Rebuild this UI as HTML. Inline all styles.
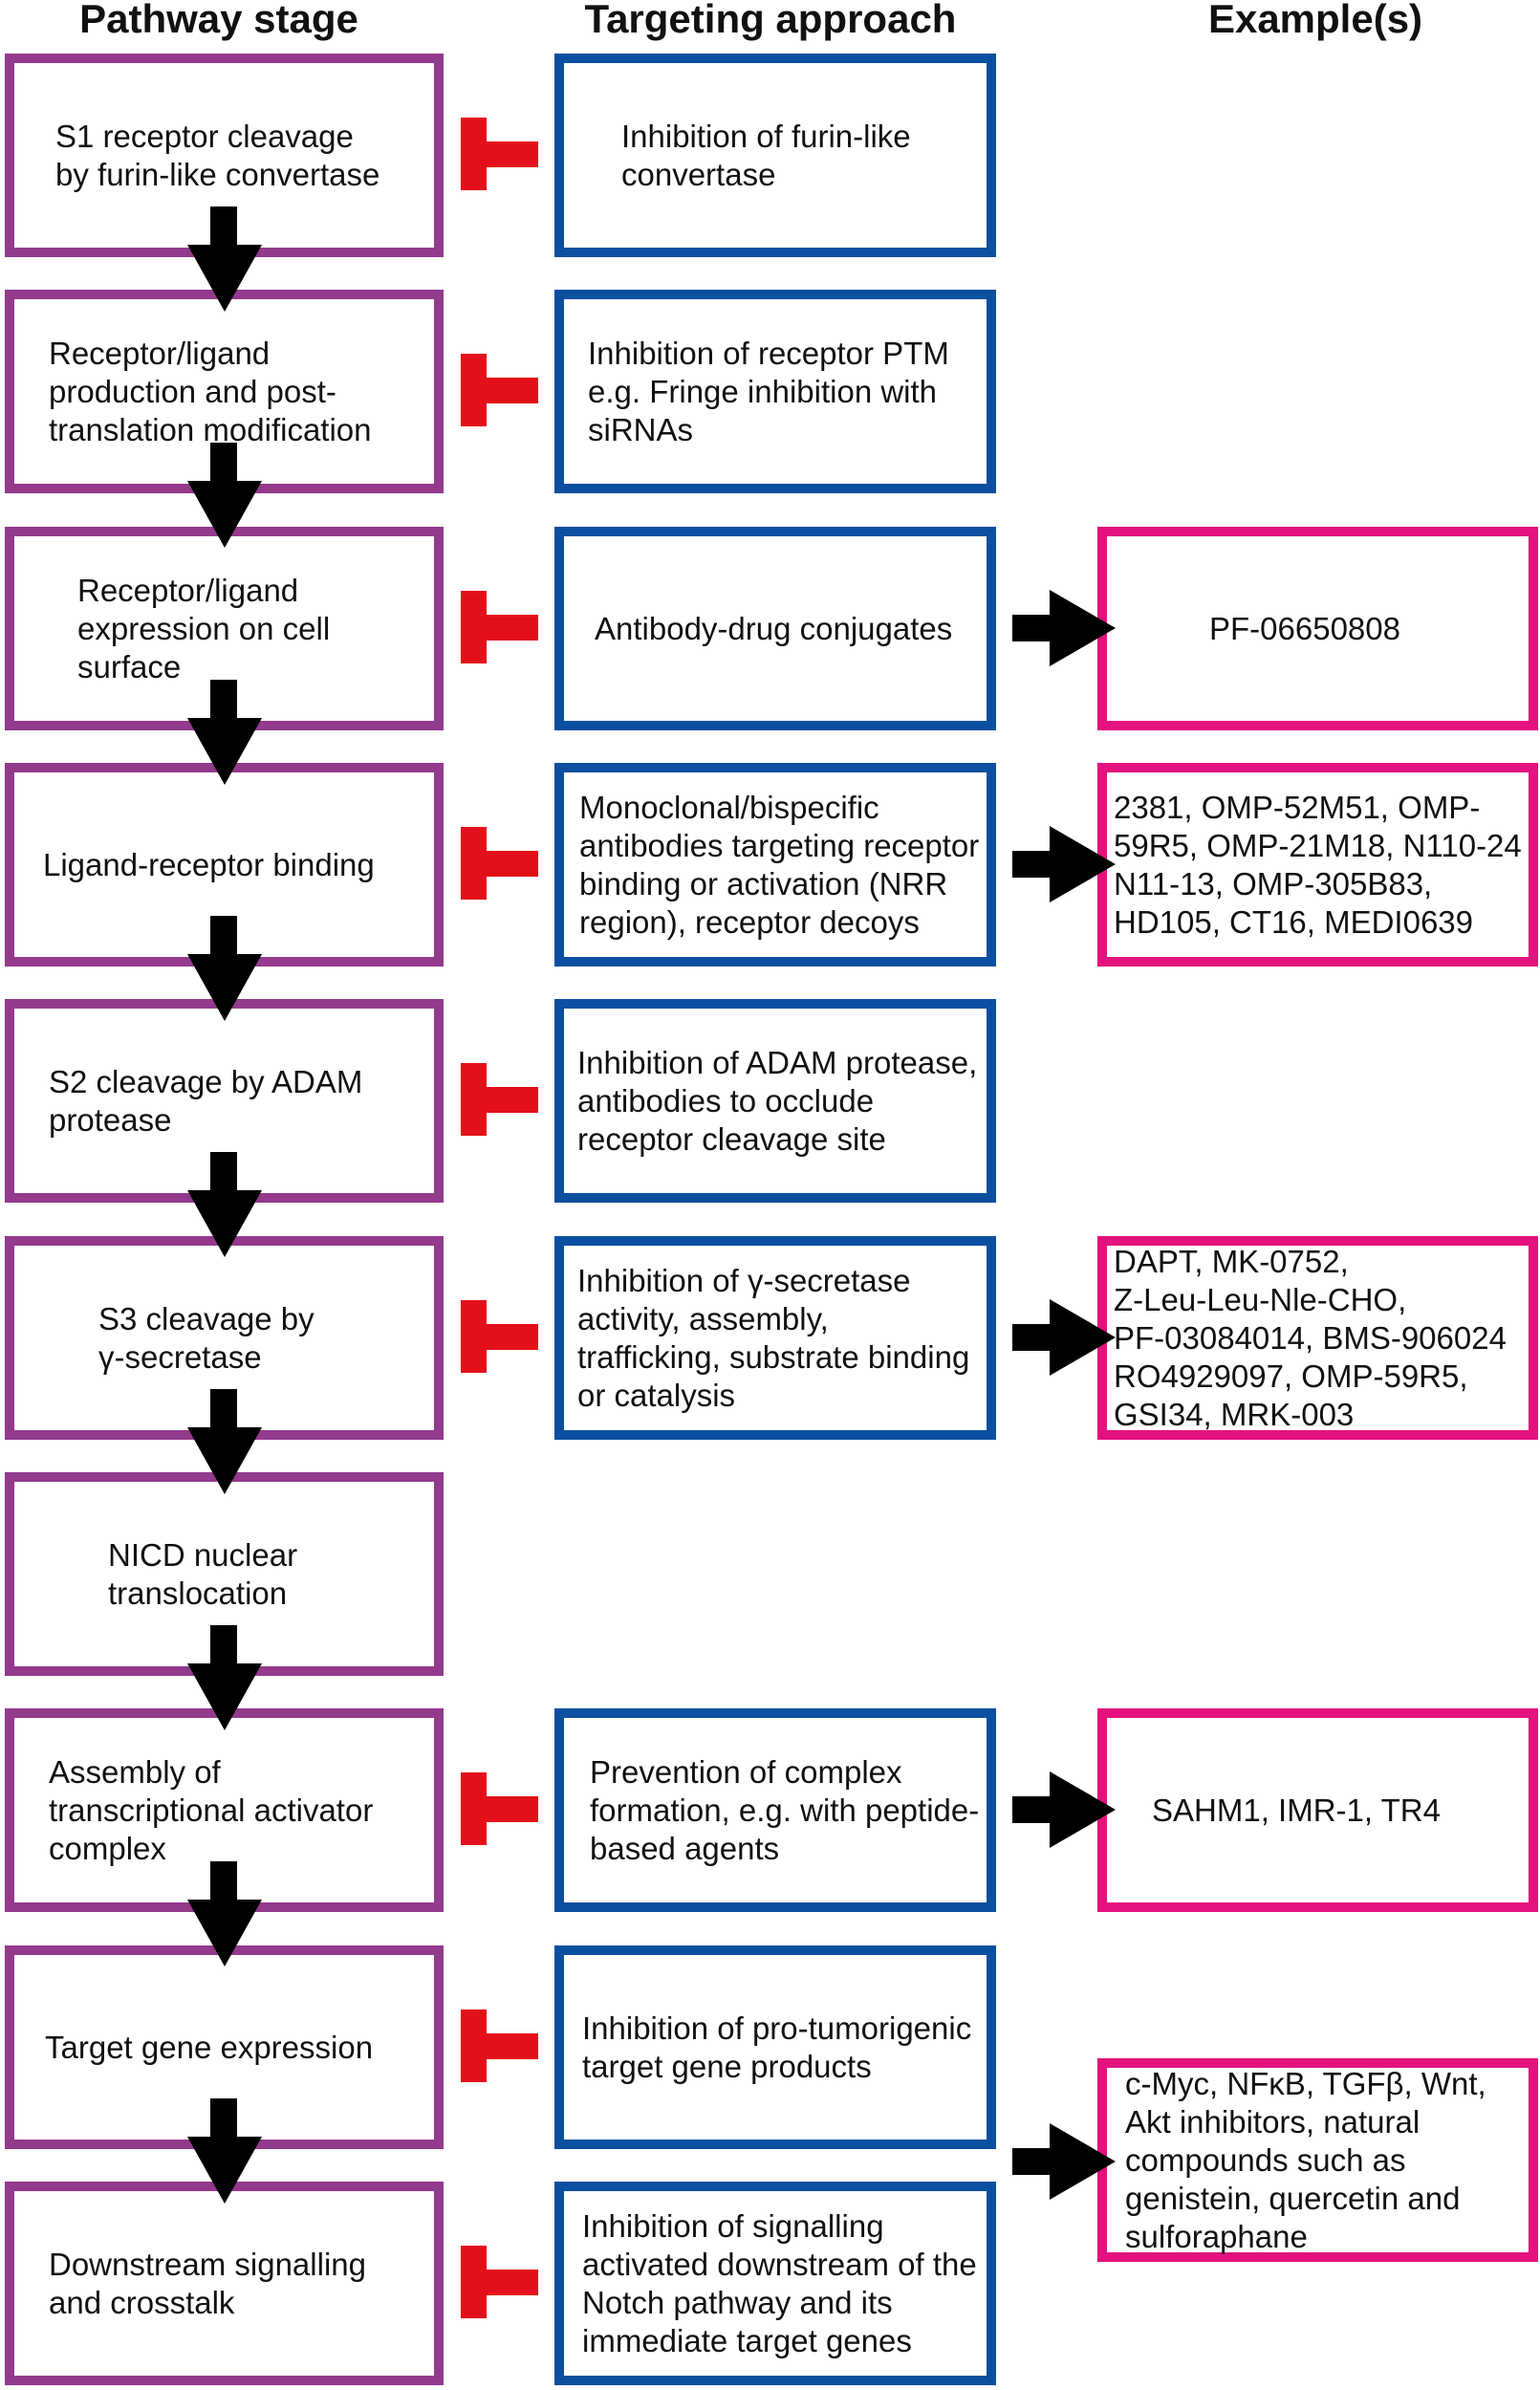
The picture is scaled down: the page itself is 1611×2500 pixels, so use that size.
<!DOCTYPE html>
<html><head><meta charset="utf-8"><style>
body{margin:0;width:1611px;height:2500px;background:#fff;position:relative;overflow:hidden;font-family:"Liberation Sans",Arial,sans-serif;color:#111}
.h{position:absolute;top:-4px;font-weight:bold;font-size:42px;transform:translateX(-50%);white-space:nowrap}
.b{position:absolute;box-sizing:border-box;border:10px solid;display:flex;align-items:center;font-size:33px;line-height:40px;white-space:nowrap;background:#fff}
.p{border-color:#933a8c;left:5px;width:459px;height:213px}
.u{border-color:#0b4fa0;left:580px;width:462px;height:213px}
.k{border-color:#e3127e;left:1148px;width:461px;height:213px}
.t{position:absolute;background:#e3101b}
.s{position:absolute;background:#000}
.tri{position:absolute;width:0;height:0}
</style></head><body>
<div class="h" style="left:229px">Pathway stage</div>
<div class="h" style="left:806px">Targeting approach</div>
<div class="h" style="left:1376px">Example(s)</div>

<!-- purple -->
<div class="b p" style="top:56px;padding-left:43px">S1 receptor cleavage<br>by furin-like convertase</div>
<div class="b p" style="top:303px;padding-left:36px">Receptor/ligand<br>production and post-<br>translation modification</div>
<div class="b p" style="top:551px;padding-left:66px">Receptor/ligand<br>expression on cell<br>surface</div>
<div class="b p" style="top:798px;padding-left:30px">Ligand-receptor binding</div>
<div class="b p" style="top:1045px;padding-left:36px">S2 cleavage by ADAM<br>protease</div>
<div class="b p" style="top:1293px;padding-left:88px">S3 cleavage by<br>γ-secretase</div>
<div class="b p" style="top:1540px;padding-left:98px">NICD nuclear<br>translocation</div>
<div class="b p" style="top:1787px;padding-left:36px">Assembly of<br>transcriptional activator<br>complex</div>
<div class="b p" style="top:2035px;padding-left:32px">Target gene expression</div>
<div class="b p" style="top:2282px;padding-left:36px">Downstream signalling<br>and crosstalk</div>

<!-- blue -->
<div class="b u" style="top:56px;padding-left:60px">Inhibition of furin-like<br>convertase</div>
<div class="b u" style="top:303px;padding-left:25px">Inhibition of receptor PTM<br>e.g. Fringe inhibition with<br>siRNAs</div>
<div class="b u" style="top:551px;padding-left:32px">Antibody-drug conjugates</div>
<div class="b u" style="top:798px;padding-left:16px">Monoclonal/bispecific<br>antibodies targeting receptor<br>binding or activation (NRR<br>region), receptor decoys</div>
<div class="b u" style="top:1045px;padding-left:14px">Inhibition of ADAM protease,<br>antibodies to occlude<br>receptor cleavage site</div>
<div class="b u" style="top:1293px;padding-left:14px">Inhibition of γ-secretase<br>activity, assembly,<br>trafficking, substrate binding<br>or catalysis</div>
<div class="b u" style="top:1787px;padding-left:27px">Prevention of complex<br>formation, e.g. with peptide-<br>based agents</div>
<div class="b u" style="top:2035px;padding-left:19px">Inhibition of pro-tumorigenic<br>target gene products</div>
<div class="b u" style="top:2282px;padding-left:19px">Inhibition of signalling<br>activated downstream of the<br>Notch pathway and its<br>immediate target genes</div>

<!-- pink -->
<div class="b k" style="top:551px;padding-left:107px">PF-06650808</div>
<div class="b k" style="top:798px;padding-left:7px">2381, OMP-52M51, OMP-<br>59R5, OMP-21M18, N110-24<br>N11-13, OMP-305B83,<br>HD105, CT16, MEDI0639</div>
<div class="b k" style="top:1293px;padding-left:7px">DAPT, MK-0752,<br>Z-Leu-Leu-Nle-CHO,<br>PF-03084014, BMS-906024<br>RO4929097, OMP-59R5,<br>GSI34, MRK-003</div>
<div class="b k" style="top:1787px;padding-left:47px">SAHM1, IMR-1, TR4</div>
<div class="b k" style="top:2153px;height:213px;padding-left:19px">c-Myc, NFκB, TGFβ, Wnt,<br>Akt inhibitors, natural<br>compounds such as<br>genistein, quercetin and<br>sulforaphane</div>

<div id="x"></div>
<script>
var tops=[56,303,551,798,1045,1293,1540,1787,2035,2282],h='';
tops.forEach(function(t,i){
 var c=t+106;
 if(i!=6){h+='<div class="t" style="left:482px;top:'+(c-39)+'px;width:27px;height:76px"></div><div class="t" style="left:508px;top:'+(c-14)+'px;width:55px;height:27px"></div>';}
 if(i<9){h+='<div class="s" style="left:220px;top:'+(t+160)+'px;width:28px;height:44px"></div><div class="tri" style="left:196px;top:'+(t+200)+'px;border-left:39px solid transparent;border-right:39px solid transparent;border-top:70px solid #000"></div>';}
});
[657,904,1399,1893,2261].forEach(function(c){
 h+='<div class="s" style="left:1059px;top:'+(c-14)+'px;width:42px;height:28px"></div><div class="tri" style="left:1098px;top:'+(c-40)+'px;border-top:40px solid transparent;border-bottom:40px solid transparent;border-left:69px solid #000"></div>';
});
document.getElementById('x').innerHTML=h;
</script>
</body></html>
